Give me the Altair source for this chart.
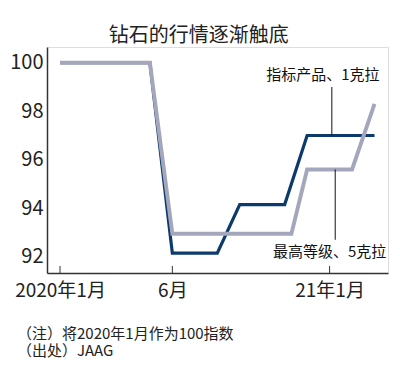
import altair as alt
import pandas as pd

# ---- data ----
months_navy = [0, 4, 5, 7, 8, 10, 11, 14]
values_navy = [100, 100, 92.15, 92.15, 94.15, 94.15, 97.0, 97.0]
months_gray = [0, 4, 5, 10.3, 11, 13, 14]
values_gray = [100, 100, 92.95, 92.95, 95.6, 95.6, 98.3]
series_names = ["指标产品、1克拉", "最高等级、5克拉"]

tick_months = [0, 5, 12]
tick_labels = ["2020年1月", "6月", "21年1月"]
y_ticks = [92, 94, 96, 98, 100]

label_months = [11.7, 12.0]
label_values = [99.49, 92.2]
leader_months = [12.1, 12.25]
leader_from = [99.0, 95.6]
leader_to = [97.0, 92.7]

notes = ["（注）将2020年1月作为100指数", "（出处）JAAG"]

NAVY = "#0d3a6c"
GRAY = "#a4a7bb"
CJK = "Noto Sans CJK SC"
NUM = "Liberation Sans Narrow, Noto Sans CJK SC"

navy_df = pd.DataFrame({"m": months_navy, "v": values_navy})
gray_df = pd.DataFrame({"m": months_gray, "v": values_gray})
lab_df = pd.DataFrame({"m": label_months, "v": label_values, "t": series_names})
lead_df = pd.DataFrame({"m": leader_months, "v": leader_from, "v2": leader_to})
tick_df = pd.DataFrame({"m": tick_months})
note_df = pd.DataFrame({"t": notes, "i": list(range(len(notes)))})

xscale = alt.Scale(domain=[-0.58, 14.6], nice=False, zero=False)
yscale = alt.Scale(domain=[91.33, 100.65], nice=False, zero=False)

expr = "''"
for mv, lb in reversed(list(zip(tick_months, tick_labels))):
    expr = f"datum.value == {mv} ? '{lb}' : {expr}"

xaxis = alt.Axis(values=tick_months, labelExpr=expr, ticks=False, grid=False,
                 title=None, domainColor="#333", domainWidth=1.5,
                 labelFont=NUM, labelFontSize=19, labelColor="#222",
                 labelPadding=8, labelOverlap=False)
yaxis = alt.Axis(values=y_ticks, ticks=False, grid=False, title=None,
                 domainColor="#333", domainWidth=1.5,
                 labelFont=NUM, labelFontSize=20, labelColor="#222",
                 labelPadding=4)

X = alt.X("m:Q", scale=xscale, axis=xaxis)
Y = alt.Y("v:Q", scale=yscale, axis=yaxis)

navy = alt.Chart(navy_df).mark_line(color=NAVY, strokeWidth=3.2, strokeJoin="miter").encode(x=X, y=Y)
gray = alt.Chart(gray_df).mark_line(color=GRAY, strokeWidth=3.9, strokeJoin="miter").encode(x=X, y=Y)
leaders = alt.Chart(lead_df).mark_rule(color="#111", strokeWidth=1).encode(x=X, y=Y, y2="v2:Q")
labels = alt.Chart(lab_df).mark_text(font=CJK, fontSize=15, color="#111",
                                     align="center", baseline="middle").encode(
    x=X, y=Y, text="t:N")
xticks = alt.Chart(tick_df).mark_rule(color="#333", strokeWidth=1).encode(
    x=X, y=alt.value(219), y2=alt.value(226))

note_layers = []
for i, yy in enumerate([287, 304]):
    note_layers.append(
        alt.Chart(note_df).transform_filter(alt.datum.i == i).mark_text(
            font=CJK, fontSize=15, color="#222", align="left", baseline="middle"
        ).encode(x=alt.value(-30), y=alt.value(yy), text="t:N")
    )

chart = alt.layer(navy, gray, leaders, labels, xticks, *note_layers).properties(
    width=341,
    height=226,
    autosize=alt.AutoSizeParams(type="none"),
    padding={"left": 47, "top": 47, "right": 12, "bottom": 103},
    title=alt.TitleParams(text="钻石的行情逐渐触底", anchor="start", dx=99, offset=1,
                          font=CJK, fontSize=20, fontWeight="normal", color="#222"),
).configure_view(stroke=None).configure(background="white")

chart.save("out.html", embed_options={"renderer": "svg", "actions": False})
